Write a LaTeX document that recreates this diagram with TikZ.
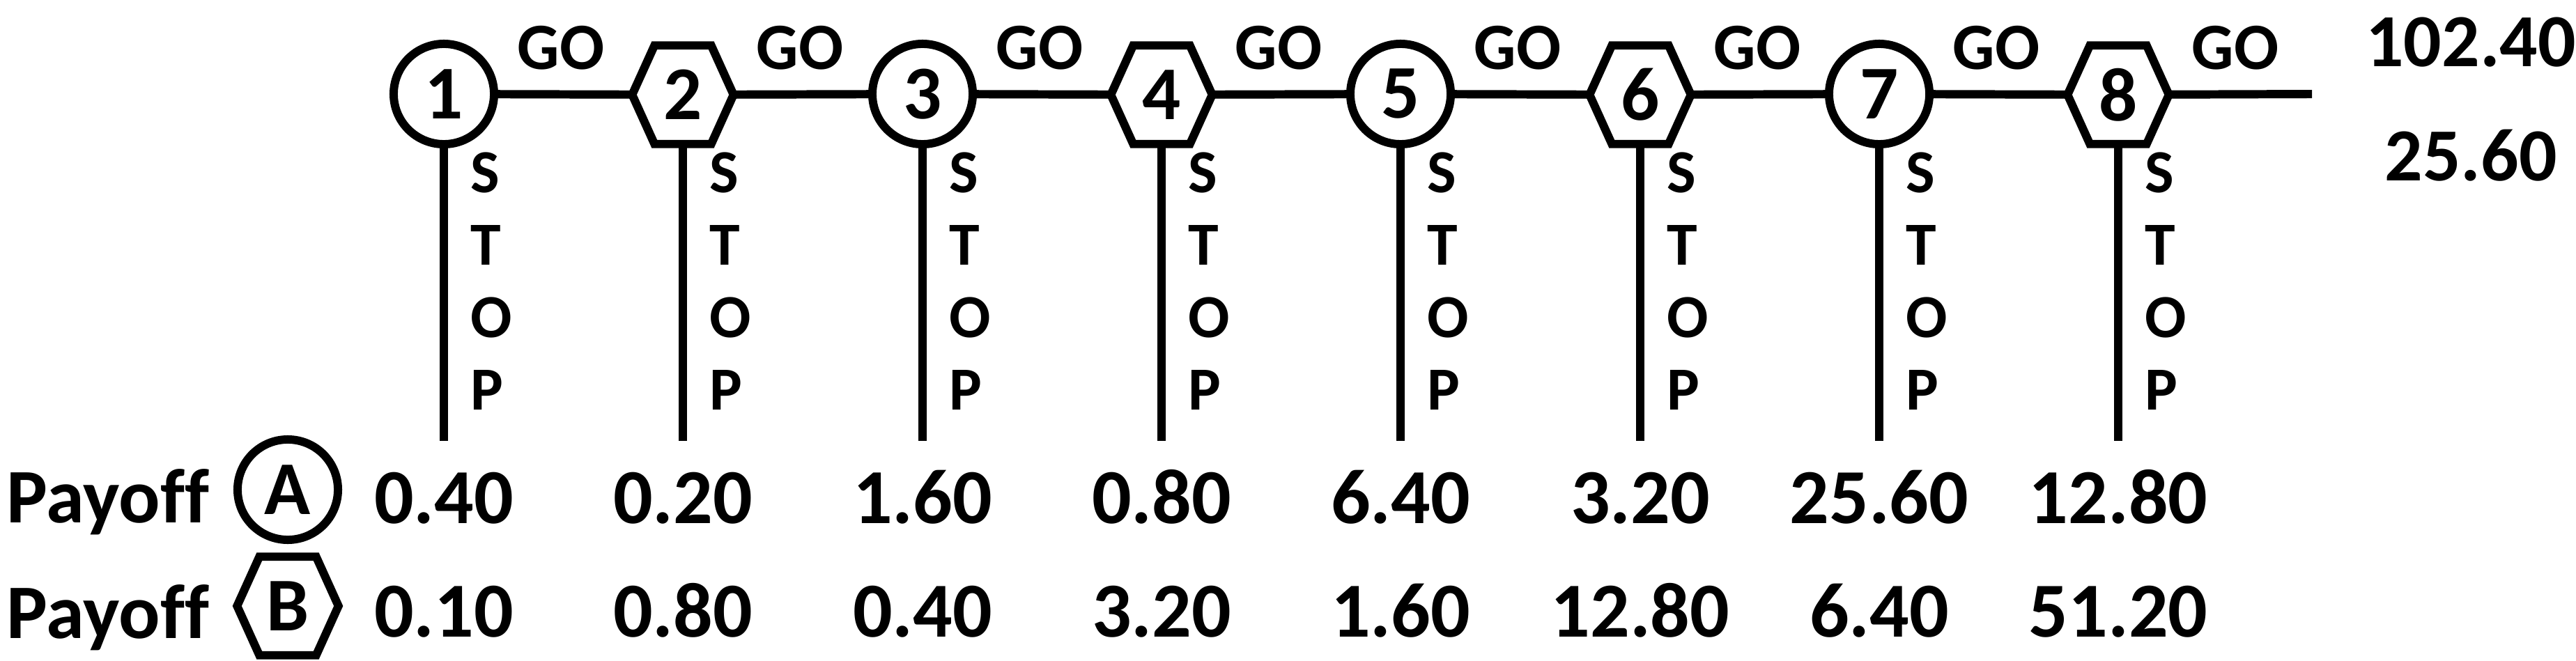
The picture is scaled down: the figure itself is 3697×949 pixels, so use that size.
\documentclass[tikz,border=0pt]{standalone}
\usepackage{fontspec}
\setmainfont{Carlito}[Ligatures=NoCommon]
\usetikzlibrary{calc}
\begin{document}
\begin{tikzpicture}[x=0.01cm,y=-0.01cm,
  lw/.style={line width=3.4pt},
  circnode/.style={circle, draw, lw, minimum size=1.44cm, inner sep=0pt,
    font=\fontsize{31}{36}\selectfont\bfseries},
  hexnode/.style={rectangle, minimum width=1.44cm, minimum height=1.40cm, inner sep=0pt,
    font=\fontsize{31}{36}\selectfont\bfseries},
  golabel/.style={font=\fontsize{27}{32}\selectfont\bfseries, inner sep=0pt},
  stoplabel/.style={font=\fontsize{25}{30}\selectfont\bfseries, inner sep=0pt, anchor=west},
  numlabel/.style={font=\fontsize{31.8}{38}\selectfont\bfseries, inner sep=0pt, anchor=base},
  endlabel/.style={font=\fontsize{30.6}{36}\selectfont\bfseries, inner sep=0pt},
  paylabel/.style={font=\fontsize{31.5}{36}\selectfont\bfseries, inner sep=0pt, anchor=base west},
  hexpath/.style={lw, line join=miter}
]
\useasboundingbox (0,0) rectangle (3697,949);

% decision nodes
\node[circnode] (n1) at (637,135) {1};
\node[hexnode]  (n2) at (980,136) {2};
\node[circnode] (n3) at (1324,135) {3};
\node[hexnode]  (n4) at (1667,136) {4};
\node[circnode] (n5) at (2010,135) {5};
\node[hexnode]  (n6) at (2354,136) {6};
\node[circnode] (n7) at (2697,135) {7};
\node[hexnode]  (n8) at (3040,136) {8};

\foreach \n in {2,4,6,8}
  \draw[hexpath] (n\n.west) -- ([xshift=0.32cm]n\n.north west) -- ([xshift=-0.32cm]n\n.north east)
    -- (n\n.east) -- ([xshift=-0.32cm]n\n.south east) -- ([xshift=0.32cm]n\n.south west) -- cycle;

% GO connectors
\coordinate (end) at (3318,135);
\draw[lw] (n1) -- (n2);
\draw[lw] (n2) -- (n3);
\draw[lw] (n3) -- (n4);
\draw[lw] (n4) -- (n5);
\draw[lw] (n5) -- (n6);
\draw[lw] (n6) -- (n7);
\draw[lw] (n7) -- (n8);
\draw[lw] (n8) -- (end);

% GO labels, STOP lines and labels
\foreach \n/\x in {1/637,2/980,3/1324,4/1667,5/2010,6/2354,7/2697,8/3040}{
  \node[golabel] (go\n) at (\x+168,69) {GO};
  \coordinate (s\n) at (\x,633);
  \draw[lw] (n\n) -- (s\n);
  \node[stoplabel] (sS\n) at (\x+38,248) {S};
  \node[stoplabel] (sT\n) at (\x+38,352) {T};
  \node[stoplabel] (sO\n) at (\x+38,456) {O};
  \node[stoplabel] (sP\n) at (\x+38,560) {P};
}

% final payoffs
\node[endlabel] (fa) at (3546,61) {102.40};
\node[endlabel] (fb) at (3546,223) {25.60};

% payoff rows
\node[paylabel] (pa) at (9,750) {Payoff};
\node[paylabel] (pb) at (9,916) {Payoff};
\node[circnode] (la) at (413,703) {A};
\node[hexnode] (lb) at (413,870) {B};
\draw[hexpath] (lb.west) -- ([xshift=0.32cm]lb.north west) -- ([xshift=-0.32cm]lb.north east)
    -- (lb.east) -- ([xshift=-0.32cm]lb.south east) -- ([xshift=0.32cm]lb.south west) -- cycle;

\foreach \n/\x/\a/\b in {1/637/0.40/0.10, 2/980/0.20/0.80, 3/1324/1.60/0.40, 4/1667/0.80/3.20,
    5/2010/6.40/1.60, 6/2354/3.20/12.80, 7/2697/25.60/6.40, 8/3040/12.80/51.20}{
  \node[numlabel] (a\n) at (\x,751) {\a};
  \node[numlabel] (b\n) at (\x,914) {\b};
}
\end{tikzpicture}
\end{document}
